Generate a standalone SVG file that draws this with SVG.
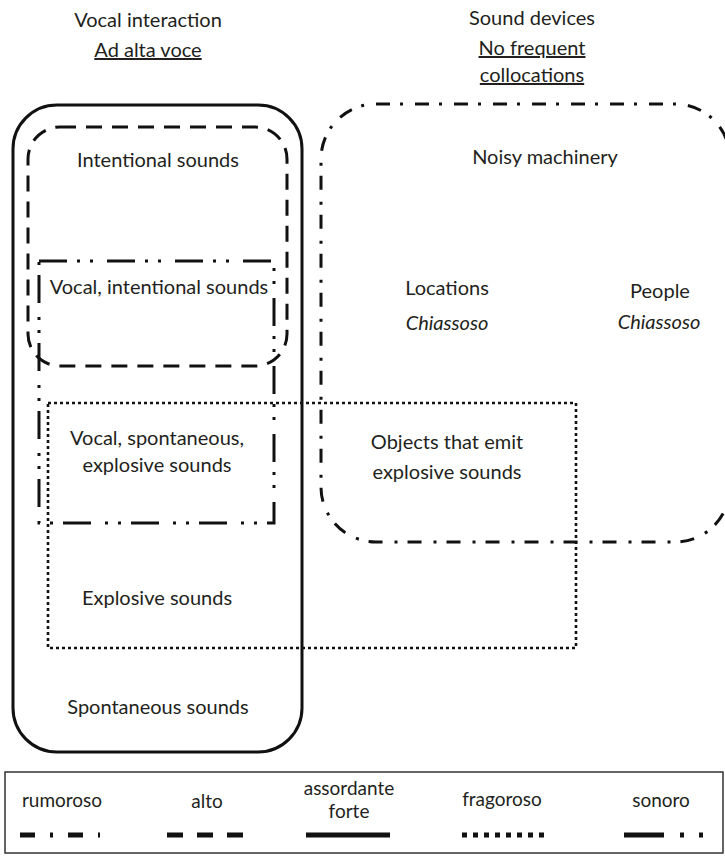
<svg xmlns="http://www.w3.org/2000/svg" width="725" height="856" viewBox="0 0 725 856">
<style>
text{font-family:Lato,"Open Sans","DejaVu Sans",sans-serif;font-size:20px;fill:#231f20;text-anchor:middle}
.it{font-style:italic}
.u{text-decoration:underline}
.lg{font-size:19px}
.shape{fill:none;stroke:#111}
.solid{stroke-width:3}
.alto{stroke-width:3;stroke-dasharray:16 10}
.sonoro{stroke-width:3;stroke-dasharray:28 10 3 10 3 14}
.frag{stroke-width:2.6;stroke-dasharray:3 3}
.rumo{stroke-width:3;stroke-dasharray:14 10 3 12}
.leg{stroke:#111;stroke-width:5;fill:none}
</style>
<rect width="725" height="856" fill="#fff"/>
<g id="headers">
<text x="148" y="27">Vocal interaction</text>
<text x="148" y="57" class="u">Ad alta voce</text>
<text x="532" y="25">Sound devices</text>
<text x="532" y="55" class="u">No frequent</text>
<text x="532" y="82" class="u">collocations</text>
</g>
<g id="sets">
<rect id="spontaneous" class="shape solid" x="13" y="105" width="289" height="647" rx="44"/>
<rect id="intentional" class="shape alto" x="28" y="127" width="259" height="239" rx="32"/>
<rect id="vocal" class="shape sonoro" x="39" y="261" width="235" height="262"/>
<rect id="explosive" class="shape frag" x="48" y="403" width="528" height="245"/>
<rect id="devices" class="shape rumo" x="321" y="104" width="409" height="438" rx="55"/>
</g>
<g id="labels">
<text x="158" y="167">Intentional sounds</text>
<text x="159" y="294">Vocal, intentional sounds</text>
<text x="545" y="164">Noisy machinery</text>
<text x="447" y="295">Locations</text>
<text x="447" y="330" class="it">Chiassoso</text>
<text x="660" y="298">People</text>
<text x="659" y="329" class="it">Chiassoso</text>
<text x="157" y="445">Vocal, spontaneous,</text>
<text x="157" y="472">explosive sounds</text>
<text x="447" y="449">Objects that emit</text>
<text x="447" y="479">explosive sounds</text>
<text x="157" y="605">Explosive sounds</text>
<text x="158" y="714">Spontaneous sounds</text>
</g>
<g id="legend">
<rect x="5" y="772" width="718" height="81" fill="none" stroke="#333" stroke-width="1.5"/>
<text class="lg" x="62" y="807">rumoroso</text>
<text class="lg" x="207" y="808">alto</text>
<text class="lg" x="349" y="795">assordante</text>
<text class="lg" x="349" y="818">forte</text>
<text class="lg" x="502" y="806">fragoroso</text>
<text class="lg" x="661" y="807">sonoro</text>
<line class="leg" x1="20" y1="835" x2="100" y2="835" stroke-dasharray="15 15 3 15"/>
<line class="leg" x1="167" y1="835" x2="246" y2="835" stroke-dasharray="16 14"/>
<line class="leg" x1="306" y1="835" x2="390" y2="835"/>
<line class="leg" x1="462" y1="835" x2="545" y2="835" stroke-dasharray="5 6"/>
<line class="leg" x1="624" y1="835" x2="704" y2="835" stroke-dasharray="40 16 4 15 4 100"/>
</g>
</svg>
